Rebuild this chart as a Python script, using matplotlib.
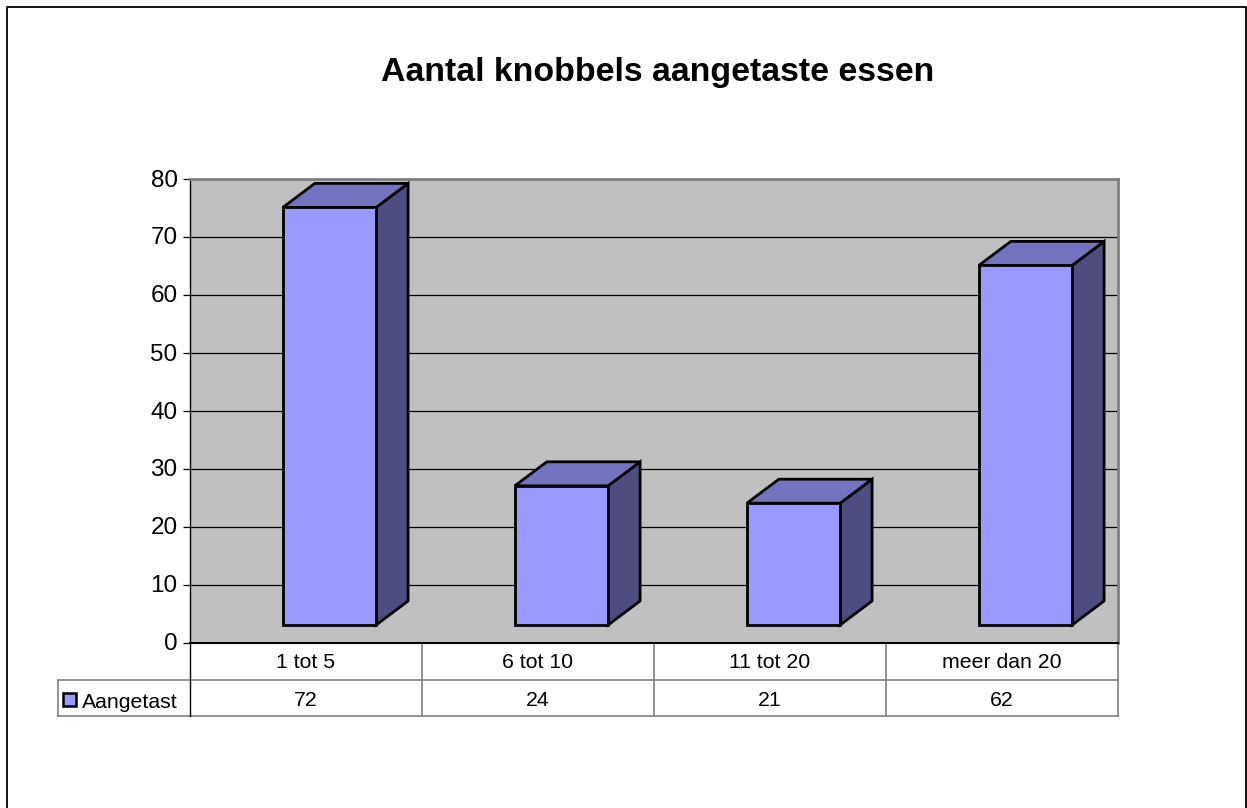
import matplotlib
matplotlib.use("Agg")
import matplotlib.pyplot as plt
from matplotlib.patches import Polygon, Rectangle
from matplotlib.transforms import ScaledTranslation

plt.rcParams['font.family'] = ['Liberation Sans', 'DejaVu Sans']

W, H = 1247, 808

### Data ###
title = "Aantal knobbels aangetaste essen"
categories = ["1 tot 5", "6 tot 10", "11 tot 20", "meer dan 20"]
series_name = "Aangetast"
values = [72, 24, 21, 62]
y_ticks = [0, 10, 20, 30, 40, 50, 60, 70, 80]

front_color = "#9999ff"
top_color = "#7373bf"
side_color = "#4d4d80"
wall_color = "#c0c0c0"

# plot area in pixels
left, right, top, bottom = 190, 1118, 179, 643

fig = plt.figure(figsize=(W / 100, H / 100), dpi=100, facecolor="white")

# overlay in pixel coordinates for the outer frame and the data table
ov = fig.add_axes([0, 0, 1, 1], zorder=0)
ov.set_xlim(0, W)
ov.set_ylim(H, 0)
ov.axis("off")

ax = fig.add_axes([left / W, (H - bottom) / H, (right - left) / W, (bottom - top) / H], zorder=1)
ax.set_xlim(0, len(categories))
ax.set_ylim(0, 80)
ax.set_facecolor(wall_color)
ax.set_yticks(y_ticks)
ax.set_xticks([])
ax.tick_params(axis="y", labelsize=17.5, length=5, width=0.9, pad=4, colors="black")
# nudge the tick labels up one pixel
for lab in ax.get_yticklabels():
    lab.set_transform(lab.get_transform() + ScaledTranslation(0, 1 / 100, fig.dpi_scale_trans))
ax.grid(axis="y", color="black", lw=0.9, zorder=1)
ax.set_axisbelow(True)
ax.spines["left"].set(color="black", lw=1.0)
ax.spines["bottom"].set(color="black", lw=1.5)
ax.spines["top"].set(color="#808080", lw=2)
ax.spines["right"].set(color="#808080", lw=2)

# 3D look: same offsets for every bar
bar_start = 0.4
bar_width = 0.402
floor = 3.1
depth_x = 0.138
depth_y = 4.14

for i, v in enumerate(values):
    x0 = i + bar_start
    x1 = x0 + bar_width
    y0 = floor
    y1 = floor + v
    ax.bar(x0, v, width=bar_width, bottom=y0, align="edge", color=front_color,
           edgecolor="black", lw=2.0, zorder=4)
    ax.add_patch(Polygon([(x1, y0), (x1 + depth_x, y0 + depth_y), (x1 + depth_x, y1 + depth_y), (x1, y1)],
                         closed=True, facecolor=side_color, edgecolor="black", lw=2.0,
                         joinstyle="miter", zorder=3))
    ax.add_patch(Polygon([(x0, y1), (x0 + depth_x, y1 + depth_y), (x1 + depth_x, y1 + depth_y), (x1, y1)],
                         closed=True, facecolor=top_color, edgecolor="black", lw=2.0,
                         joinstyle="miter", zorder=3))

# outer frame, open at the bottom
ov.plot([7, 7, 1246, 1246], [H, 6.5, 6.5, H], color="black", lw=1.3, clip_on=False)

ov.text(658, 73, title, fontsize=24.4, fontweight="bold", ha="center", va="center")

# data table
row1, row2, row3 = 643, 680, 716
legend_left = 58
cell_w = (right - left) / len(categories)
grey = "#808080"
ov.plot([legend_left, right], [row2, row2], color=grey, lw=1.2)
ov.plot([legend_left, right], [row3, row3], color=grey, lw=1.2)
ov.plot([legend_left, legend_left], [row2, row3], color=grey, lw=1.2)
ov.plot([left, left], [row1, row3], color="black", lw=1.0)
for i in range(1, len(categories) + 1):
    ov.plot([left + i * cell_w] * 2, [row1, row3], color=grey, lw=1.2)
for i, (c, v) in enumerate(zip(categories, values)):
    xc = left + (i + 0.5) * cell_w
    ov.text(xc, 662, c, fontsize=15.3, ha="center", va="center")
    ov.text(xc, 700, str(v), fontsize=15.3, ha="center", va="center")

ov.add_patch(Rectangle((63, 693), 13, 13, facecolor=front_color, edgecolor="black", lw=1.8))
ov.text(82, 703, series_name, fontsize=15.3, ha="left", va="center")

fig.savefig("out.png", dpi=100)
